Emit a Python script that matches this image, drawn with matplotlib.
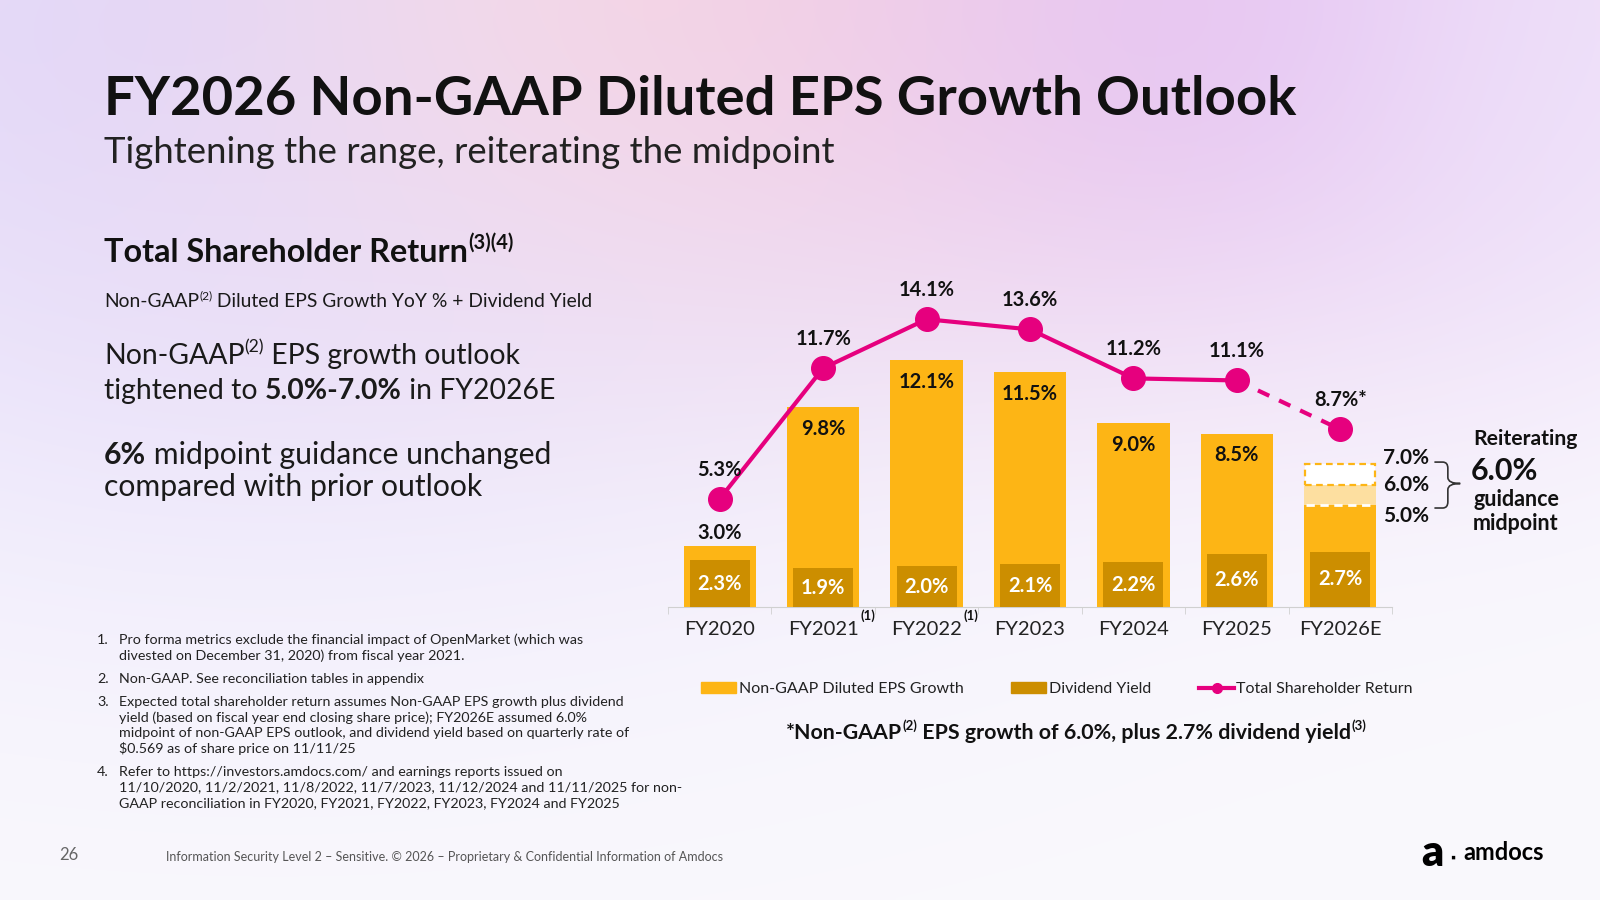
import matplotlib
matplotlib.use("Agg")
import matplotlib.pyplot as plt
import numpy as np
from matplotlib.lines import Line2D
from matplotlib.patches import Patch, PathPatch
from matplotlib.path import Path
from matplotlib.transforms import blended_transform_factory

plt.rcParams['font.family'] = ['Lato', 'DejaVu Sans']

W, H = 1600, 900

# chart data
years = ["FY2020", "FY2021", "FY2022", "FY2023", "FY2024", "FY2025", "FY2026E"]
eps_growth = [3.0, 9.8, 12.1, 11.5, 9.0, 8.5]
dividend_yield = [2.3, 1.9, 2.0, 2.1, 2.2, 2.6, 2.7]
tsr = [5.3, 11.7, 14.1, 13.6, 11.2, 11.1, 8.7]
guidance = [5.0, 6.0, 7.0]   # low, midpoint, high for FY2026E
pro_forma_years = ["FY2021", "FY2022"]

legend_labels = ["Non-GAAP Diluted EPS Growth", "Dividend Yield", "Total Shareholder Return"]

footnotes = [
    ("1.", ["Pro forma metrics exclude the financial impact of OpenMarket (which was",
            "divested on December 31, 2020) from fiscal year 2021."]),
    ("2.", ["Non-GAAP. See reconciliation tables in appendix"]),
    ("3.", ["Expected total shareholder return assumes Non-GAAP EPS growth plus dividend",
            "yield (based on fiscal year end closing share price); FY2026E assumed 6.0%",
            "midpoint of non-GAAP EPS outlook, and dividend yield based on quarterly rate of",
            r"\$0.569 as of share price on 11/11/25"]),
    ("4.", ["Refer to https://investors.amdocs.com/ and earnings reports issued on",
            "11/10/2020, 11/2/2021, 11/8/2022, 11/7/2023, 11/12/2024 and 11/11/2025 for non-",
            "GAAP reconciliation in FY2020, FY2021, FY2022, FY2023, FY2024 and FY2025"]),
]

GOLD = "#FDB515"
DARK_GOLD = "#CC8E00"
LIGHT_GOLD = "#FDDFA0"
MAGENTA = "#E6007E"
INK = "#111111"
LABEL_SIZE = 14.5

fig = plt.figure(figsize=(16, 9), dpi=100)

# background: soft lavender / pink glow at the top
bg = fig.add_axes([0, 0, 1, 1])
bg.set_xlim(0, W)
bg.set_ylim(H, 0)
bg.axis("off")
yy, xx = np.mgrid[0:H:4, 0:W:4].astype(float)
img = np.ones(xx.shape + (3,)) * np.array([250, 249, 253]) / 255.0
blobs = [
    (300, 420, 600, 260, (241, 237, 252), 0.7),
    (150, 40, 380, 260, (222, 212, 250), 0.9),
    (560, 230, 420, 160, (234, 222, 247), 0.6),
    (820, -20, 380, 220, (247, 212, 224), 0.9),
    (1280, 20, 320, 220, (229, 193, 241), 0.9),
    (1560, 80, 200, 220, (238, 228, 252), 0.6),
]
for cx, cy, sx, sy, col, s in blobs:
    a = s * np.exp(-((xx - cx) ** 2 / (2 * sx ** 2) + (yy - cy) ** 2 / (2 * sy ** 2)))
    img = img * (1 - a[..., None]) + np.array(col)[None, None, :] / 255.0 * a[..., None]
bg.imshow(img, extent=[0, W, H, 0], interpolation="bilinear", aspect="auto", zorder=0)


def rich(x, y, parts, size, color=INK):
    """Write one line made of several runs; y is the baseline in pixels.
    parts: (text, weight, is_superscript)"""
    prev = None
    for text, weight, sup in parts:
        fs = size * 0.62 if sup else size
        if prev is None:
            prev = bg.text(x, y, text, fontsize=fs, fontweight=weight, color=color,
                           va="baseline", ha="left")
        else:
            prev = bg.annotate(text, xy=(1, y), xycoords=(prev, "data"),
                               xytext=(0, size * 0.42 if sup else 0),
                               textcoords="offset points", fontsize=fs, fontweight=weight,
                               color=color, va="baseline", ha="left")
    return prev


# titles and left panel text
rich(104, 115, [("FY2026 Non-GAAP Diluted EPS Growth Outlook", "bold", False)], 39.2)
rich(104, 163, [("Tightening the range, reiterating the midpoint", "normal", False)], 26.3, "#222222")
rich(104, 262, [("Total Shareholder Return", "bold", False), ("(3)(4)", "bold", True)], 23.3)
rich(104, 307, [("Non-GAAP", "normal", False), ("(2)", "normal", True),
                (" Diluted EPS Growth YoY % + Dividend Yield", "normal", False)], 13.9, "#1a1a1a")
rich(104, 364, [("Non-GAAP", "normal", False), ("(2)", "normal", True),
                (" EPS growth outlook", "normal", False)], 20.4, "#1a1a1a")
rich(104, 399, [("tightened to ", "normal", False), ("5.0%-7.0%", "bold", False),
                (" in FY2026E", "normal", False)], 20.4, "#1a1a1a")
rich(104, 464, [("6%", "bold", False), (" midpoint guidance unchanged", "normal", False)],
     21.7, "#1a1a1a")
rich(104, 496, [("compared with prior outlook", "normal", False)], 21.7, "#1a1a1a")

# footnotes
note_tops = [640, 679, 702, 772]
for (num, lines), y0 in zip(footnotes, note_tops):
    bg.text(97, y0, num, fontsize=10.3, color="#222222", va="center", ha="left")
    for k, line in enumerate(lines):
        bg.text(119, y0 + k * 15.4, line, fontsize=10.3, color="#222222", va="center", ha="left")

# footer
bg.text(59, 855, "26", fontsize=12, color="#666666", va="center", ha="left")
bg.text(166, 857, "Information Security Level 2 \u2013 Sensitive. \u00a9 2026 \u2013 Proprietary & "
        "Confidential Information of Amdocs", fontsize=9, color="#555555", va="center", ha="left")
bg.text(1421, 853, "a", fontsize=31, fontweight="heavy", color="black", va="center", ha="left")
bg.text(1450, 858, "\u25aa", fontsize=9, color="black", va="center", ha="left")
bg.text(1463, 853, "amdocs", fontsize=17, fontweight="bold", color="black", va="center", ha="left")

# chart axes
ax = fig.add_axes([668 / W, 1 - 607 / H, 724 / W, 16 * 20.41 / H])
ax.patch.set_alpha(0)
ax.set_xlim(-0.5, 6.5)
ax.set_ylim(0, 16)
x = np.arange(len(years))
n_hist = len(eps_growth)

ax.bar(x[:n_hist], eps_growth, width=0.70, color=GOLD, zorder=2)
# FY2026E guidance range
ax.bar(x[-1], guidance[0], width=0.70, color=GOLD, zorder=2)
ax.bar(x[-1], guidance[1] - guidance[0], bottom=guidance[0], width=0.70, color=LIGHT_GOLD, zorder=2)
ax.bar(x[-1], guidance[2] - guidance[1], bottom=guidance[1], width=0.68, facecolor="white",
       edgecolor=GOLD, linestyle=(0, (3, 2)), linewidth=1.6, zorder=2)
ax.plot([x[-1] - 0.33, x[-1] + 0.33], [guidance[0], guidance[0]], color="white",
        linestyle=(0, (3, 2)), linewidth=2, zorder=3)

ax.bar(x, dividend_yield, width=0.58, color=DARK_GOLD, zorder=3)

# total shareholder return line
ax.plot(x[:n_hist], tsr[:n_hist], color=MAGENTA, linewidth=3, zorder=5)
ax.plot(x[n_hist - 1:], tsr[n_hist - 1:], color=MAGENTA, linewidth=3,
        linestyle=(0, (3, 2.6)), zorder=4)
ax.plot(x, tsr, linestyle="none", marker="o", markersize=17, color=MAGENTA, zorder=6)

for i, v in enumerate(tsr):
    label = f"{v:.1f}%" + ("*" if years[i].endswith("E") else "")
    ax.annotate(label, (i, v), xytext=(0, 21), textcoords="offset points", ha="center",
                va="center", fontsize=LABEL_SIZE, fontweight="bold", color=INK, zorder=7)

for i, v in enumerate(eps_growth):
    inside = v - dividend_yield[i] > 2
    ax.annotate(f"{v:.1f}%", (i, v), xytext=(0, -15.5 if inside else 9), textcoords="offset points",
                ha="center", va="center", fontsize=LABEL_SIZE, fontweight="bold", color=INK, zorder=7)

for i, d in enumerate(dividend_yield):
    ax.text(i, d / 2, f"{d:.1f}%", ha="center", va="center", fontsize=LABEL_SIZE,
            fontweight="bold", color="white", zorder=7)

# guidance labels and brace
for g, dy in zip(guidance, [-8, 0, 4.4]):
    ax.annotate(f"{g:.1f}%", (6.41, g), xytext=(0, dy), textcoords="offset points",
                ha="left", va="center", fontsize=15, fontweight="bold", color=INK,
                annotation_clip=False)
x0, x1, x2 = 6.91, 7.04, 7.16
ytop, ymid, ybot = 7.1, 6.05, 4.85
verts = [(x0, ytop), (x1 - 0.05, ytop), (x1, ytop), (x1, ytop - 0.3), (x1, ymid + 0.3),
         (x1, ymid), (x2, ymid), (x1, ymid), (x1, ymid - 0.3), (x1, ybot + 0.3),
         (x1, ybot), (x1 - 0.05, ybot), (x0, ybot)]
codes = [Path.MOVETO, Path.LINETO, Path.CURVE3, Path.CURVE3, Path.LINETO,
         Path.CURVE3, Path.CURVE3, Path.CURVE3, Path.CURVE3, Path.LINETO,
         Path.CURVE3, Path.CURVE3, Path.LINETO]
ax.add_patch(PathPatch(Path(verts, codes), facecolor="none", edgecolor="#333333",
                       linewidth=1.2, clip_on=False))

bg.text(1473, 439, "Reiterating", fontsize=15.2, fontweight="bold", color=INK, va="center", ha="left")
bg.text(1471, 471, "6.0%", fontsize=22, fontweight="bold", color=INK, va="center", ha="left")
bg.text(1473, 500, "guidance", fontsize=15.5, fontweight="bold", color=INK, va="center", ha="left")
bg.text(1473, 524, "midpoint", fontsize=15.5, fontweight="bold", color=INK, va="center", ha="left")

# axis styling
for side in ["top", "right", "left"]:
    ax.spines[side].set_visible(False)
ax.spines["bottom"].set_color("#D0D0D0")
ax.set_yticks([])
ax.set_xticks(x, years)
ax.set_xticks(np.arange(-0.5, len(years), 1), minor=True)
ax.tick_params(axis="x", which="major", length=0, pad=10, labelsize=14.5, labelcolor="#222222")
ax.tick_params(axis="x", which="minor", length=5, color="#D0D0D0", direction="out")

trans = blended_transform_factory(ax.transData, ax.transAxes)
for name in pro_forma_years:
    ax.text(years.index(name) + 0.43, -0.027, "(1)", transform=trans, fontsize=9.5,
            fontweight="bold", color=INK, ha="center", va="center")

# legend
handles = [Patch(color=GOLD), Patch(color=DARK_GOLD),
           Line2D([0], [0], color=MAGENTA, linewidth=3, marker="o", markersize=7)]
fig.legend(handles, legend_labels, loc="center", bbox_to_anchor=(1057 / W, 1 - 689 / H), ncol=3,
           frameon=False, fontsize=11.5, handlelength=2.2, handletextpad=0.15, columnspacing=3.0,
           labelcolor="#222222")

rich(786, 739, [("*Non-GAAP", "bold", False), ("(2)", "bold", True),
                (" EPS growth of 6.0%, plus 2.7% dividend yield", "bold", False),
                ("(3)", "bold", True)], 15.4)

fig.savefig("out.png", dpi=100)
